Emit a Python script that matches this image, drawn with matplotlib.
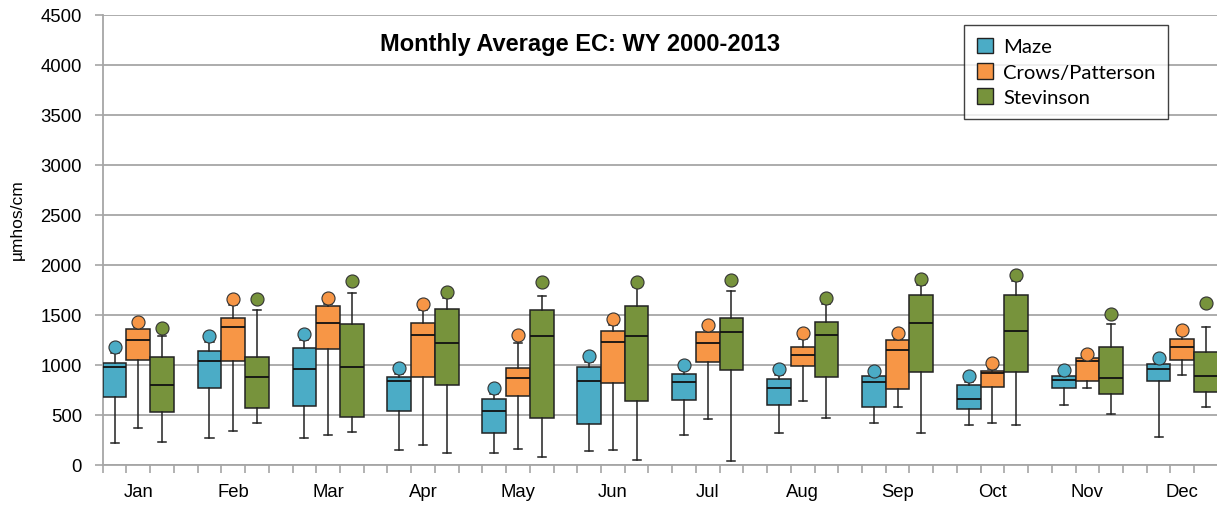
import numpy as np
import matplotlib
matplotlib.use("Agg")
import matplotlib.pyplot as plt
from matplotlib.patches import Patch

plt.rcParams['font.family'] = ['Liberation Sans', 'DejaVu Sans']

months = ["Jan", "Feb", "Mar", "Apr", "May", "Jun",
          "Jul", "Aug", "Sep", "Oct", "Nov", "Dec"]
series = ["Maze", "Crows/Patterson", "Stevinson"]
colors = ["#4BACC6", "#F79646", "#77933C"]

# whisker low, q1, median, q3, whisker high, max (circle)
maze_lo = [220, 270, 270, 150, 117, 140, 297, 317, 423, 400, 600, 280]
maze_q1 = [683, 767, 587, 543, 317, 413, 647, 600, 580, 557, 767, 837]
maze_med = [977, 1037, 957, 837, 540, 840, 827, 770, 827, 660, 850, 960]
maze_q3 = [1017, 1143, 1167, 877, 660, 980, 907, 860, 893, 800, 893, 1013]
maze_hi = [1120, 1230, 1250, 910, 710, 1030, 950, 900, 893, 830, 893, 1013]
maze_max = [1183, 1287, 1313, 970, 770, 1087, 1003, 960, 943, 887, 947, 1073]

crows_lo = [367, 340, 303, 200, 160, 150, 457, 637, 580, 423, 770, 897]
crows_q1 = [1050, 1040, 1157, 877, 693, 817, 1027, 990, 757, 780, 840, 1050]
crows_med = [1250, 1380, 1420, 1300, 873, 1233, 1217, 1100, 1147, 917, 1040, 1180]
crows_q3 = [1357, 1473, 1587, 1420, 970, 1337, 1327, 1180, 1253, 943, 1073, 1263]
crows_hi = [1377, 1600, 1610, 1550, 1217, 1400, 1350, 1260, 1260, 960, 1073, 1300]
crows_max = [1433, 1660, 1670, 1613, 1303, 1460, 1403, 1317, 1317, 1023, 1107, 1353]

stev_lo = [233, 423, 330, 117, 80, 53, 43, 470, 317, 400, 507, 583]
stev_q1 = [527, 567, 483, 803, 470, 640, 947, 883, 933, 933, 707, 730]
stev_med = [800, 883, 980, 1217, 1290, 1290, 1327, 1303, 1423, 1337, 873, 887]
stev_q3 = [1083, 1083, 1407, 1557, 1547, 1587, 1467, 1433, 1703, 1703, 1180, 1133]
stev_hi = [1287, 1547, 1720, 1670, 1690, 1780, 1737, 1610, 1800, 1840, 1407, 1383]
stev_max = [1370, 1660, 1840, 1727, 1833, 1833, 1847, 1670, 1860, 1897, 1507, 1620]

data = [
    (maze_lo, maze_q1, maze_med, maze_q3, maze_hi, maze_max),
    (crows_lo, crows_q1, crows_med, crows_q3, crows_hi, crows_max),
    (stev_lo, stev_q1, stev_med, stev_q3, stev_hi, stev_max),
]

fig = plt.figure(figsize=(12.17, 5.06), dpi=100)
ax = fig.add_axes([102.7 / 1217, 40 / 506, 1 - 102.7 / 1217, 450 / 506])

grid_c = "#A6A6A6"
for s, (lo, q1, med, q3, hi, mx) in enumerate(data):
    pos = [4 * m + s + 0.5 for m in range(12)]
    stats = [dict(whislo=lo[i], q1=q1[i], med=med[i], q3=q3[i], whishi=hi[i], fliers=[])
             for i in range(12)]
    ax.bxp(stats, positions=pos, widths=1.0, capwidths=0.34, patch_artist=True,
           showfliers=False, manage_ticks=False,
           boxprops=dict(facecolor=colors[s], edgecolor="#222222", linewidth=1.1),
           medianprops=dict(color="#111111", linewidth=1.3),
           whiskerprops=dict(color="#222222", linewidth=1.1),
           capprops=dict(color="#222222", linewidth=1.1), zorder=3)
    ax.plot(pos, mx, linestyle="none", marker="o", markersize=9.4,
            markerfacecolor=colors[s], markeredgecolor="#333333",
            markeredgewidth=0.8, zorder=4)

ax.set_xlim(0, (1217 - 102.7) / 23.727)
ax.set_ylim(0, 4500)
ax.set_yticks(np.arange(0, 4501, 500))
ax.yaxis.grid(True, color=grid_c, linewidth=1.3)
ax.set_axisbelow(True)

ax.set_xticks(np.arange(0, 47))
ax.set_xticklabels([])
ax.set_xticks([4 * m + 1.5 for m in range(12)], minor=True)
ax.set_xticklabels(months, minor=True)
ax.tick_params(axis="x", which="major", length=6, color=grid_c, width=1.2)
ax.tick_params(axis="x", which="minor", length=0, pad=13, labelsize=13.3)
ax.tick_params(axis="y", length=6, color=grid_c, width=1.2, labelsize=13.3, pad=9)

for side in ["top", "right"]:
    ax.spines[side].set_visible(False)
for side in ["left", "bottom"]:
    ax.spines[side].set_color(grid_c)
    ax.spines[side].set_linewidth(1.3)

fig.text(17 / 1217, 1 - 220 / 506, "µmhos/cm", rotation=90, ha="center", va="center",
         fontsize=12.5)

fig.text(580 / 1217, 1 - 45 / 506, "Monthly Average EC: WY 2000-2013",
         ha="center", va="center", fontsize=17, fontweight="bold")

handles = [Patch(facecolor=c, edgecolor="#222222", linewidth=1.0) for c in colors]
leg = fig.legend(handles, series, loc="upper left",
                 bbox_to_anchor=(964 / 1217, 1 - 26 / 506),
                 prop=dict(family="Lato", size=14.6), frameon=True, fancybox=False,
                 edgecolor="#111111", handlelength=0.82, handleheight=0.82,
                 handletextpad=0.5, labelspacing=0.36, borderpad=0.62,
                 borderaxespad=0)
leg.get_frame().set_linewidth(1.0)

fig.savefig("out.png", dpi=100)
